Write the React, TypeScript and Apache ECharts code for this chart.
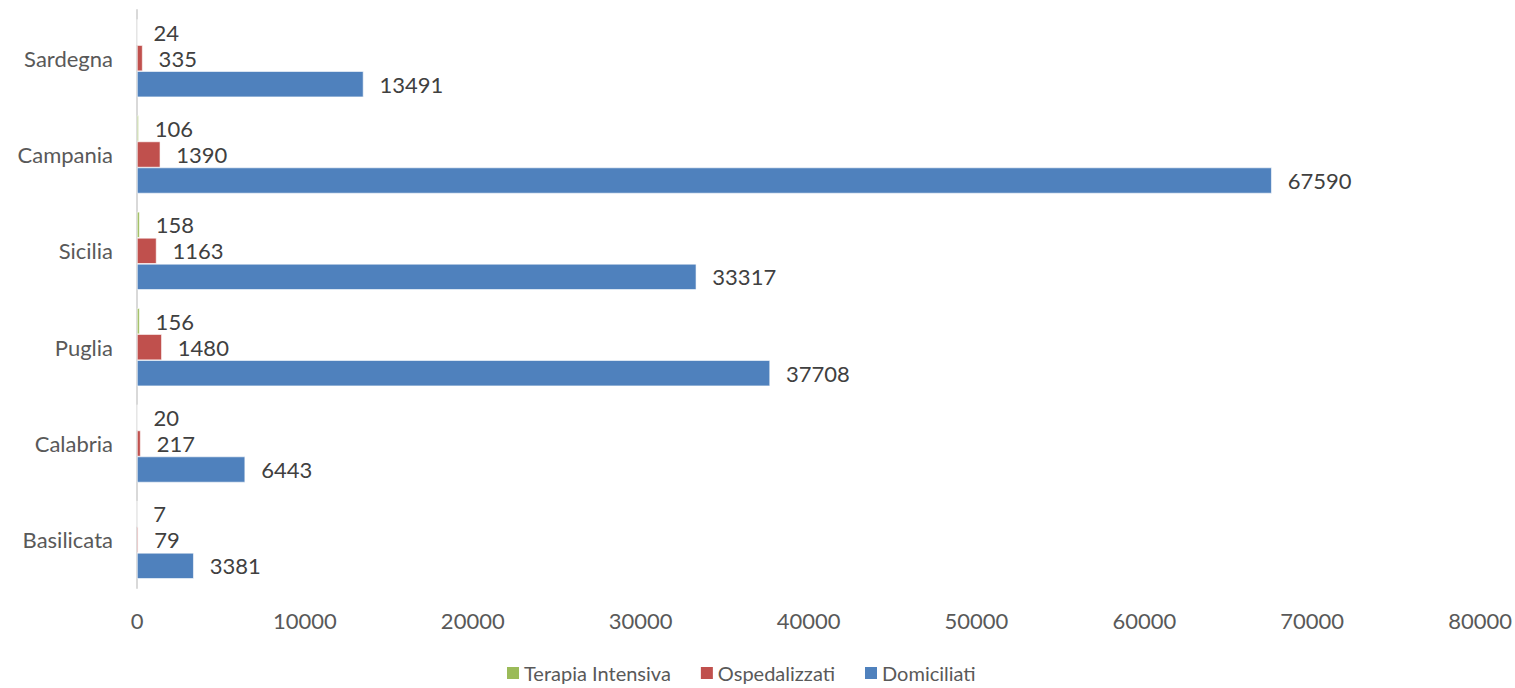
import React, { useEffect, useRef } from "react";
import * as echarts from "echarts";

const categories = ["Basilicata", "Calabria", "Puglia", "Sicilia", "Campania", "Sardegna"];
const terapiaIntensiva = [7, 20, 156, 158, 106, 24];
const ospedalizzati = [79, 217, 1480, 1163, 1390, 335];
const domiciliati = [3381, 6443, 37708, 33317, 67590, 13491];
const seriesNames = ["Terapia Intensiva", "Ospedalizzati", "Domiciliati"];

const FONT = "Lato, 'Open Sans', sans-serif";

export default function App() {
  const ref = useRef<HTMLDivElement>(null);
  useEffect(() => {
    if (!ref.current) return;
    const chart = echarts.init(ref.current, undefined, { renderer: "svg" });
    const label = {
      show: true,
      position: "right",
      distance: 16,
      color: "#404040",
      fontSize: 22,
      fontFamily: FONT,
    };
    const mk = (name: string, data: number[], color: string) => ({
      name,
      type: "bar",
      data,
      barGap: "0%",
      barCategoryGap: "19%",
      itemStyle: { color, borderColor: "#ffffff", borderWidth: 0.6 },
      label,
    });
    chart.setOption({
      animation: false,
      textStyle: { fontFamily: FONT },
      grid: { left: 137, right: 14, top: 10, bottom: 100, containLabel: false },
      legend: {
        data: seriesNames.map((name) => ({ name, itemStyle: { borderWidth: 0 } })),
        bottom: 0,
        left: 502,
        itemWidth: 12,
        itemHeight: 12,
        itemGap: 30,
        icon: "rect",
        textStyle: { color: "#595959", fontSize: 20, fontFamily: FONT },
      },
      xAxis: {
        type: "value",
        min: 0,
        max: 80000,
        interval: 10000,
        axisLine: { show: false },
        axisTick: { show: false },
        splitLine: { show: false },
        axisLabel: {
          color: "#595959",
          fontSize: 22,
          margin: 21,
          fontFamily: FONT,
          formatter: (v: number) => String(v),
        },
      },
      yAxis: {
        type: "category",
        data: categories,
        axisLine: { show: true, lineStyle: { color: "#d9d9d9", width: 2 } },
        axisTick: { show: false },
        axisLabel: { color: "#595959", fontSize: 22, margin: 24, fontFamily: FONT },
      },
      series: [
        mk(seriesNames[0], terapiaIntensiva, "#9bbb59"),
        mk(seriesNames[1], ospedalizzati, "#c0504d"),
        mk(seriesNames[2], domiciliati, "#4f81bd"),
      ],
    });
    return () => chart.dispose();
  }, []);
  return <div ref={ref} style={{ width: 1515, height: 688, position: "absolute", left: 0, top: 0 }} />;
}
